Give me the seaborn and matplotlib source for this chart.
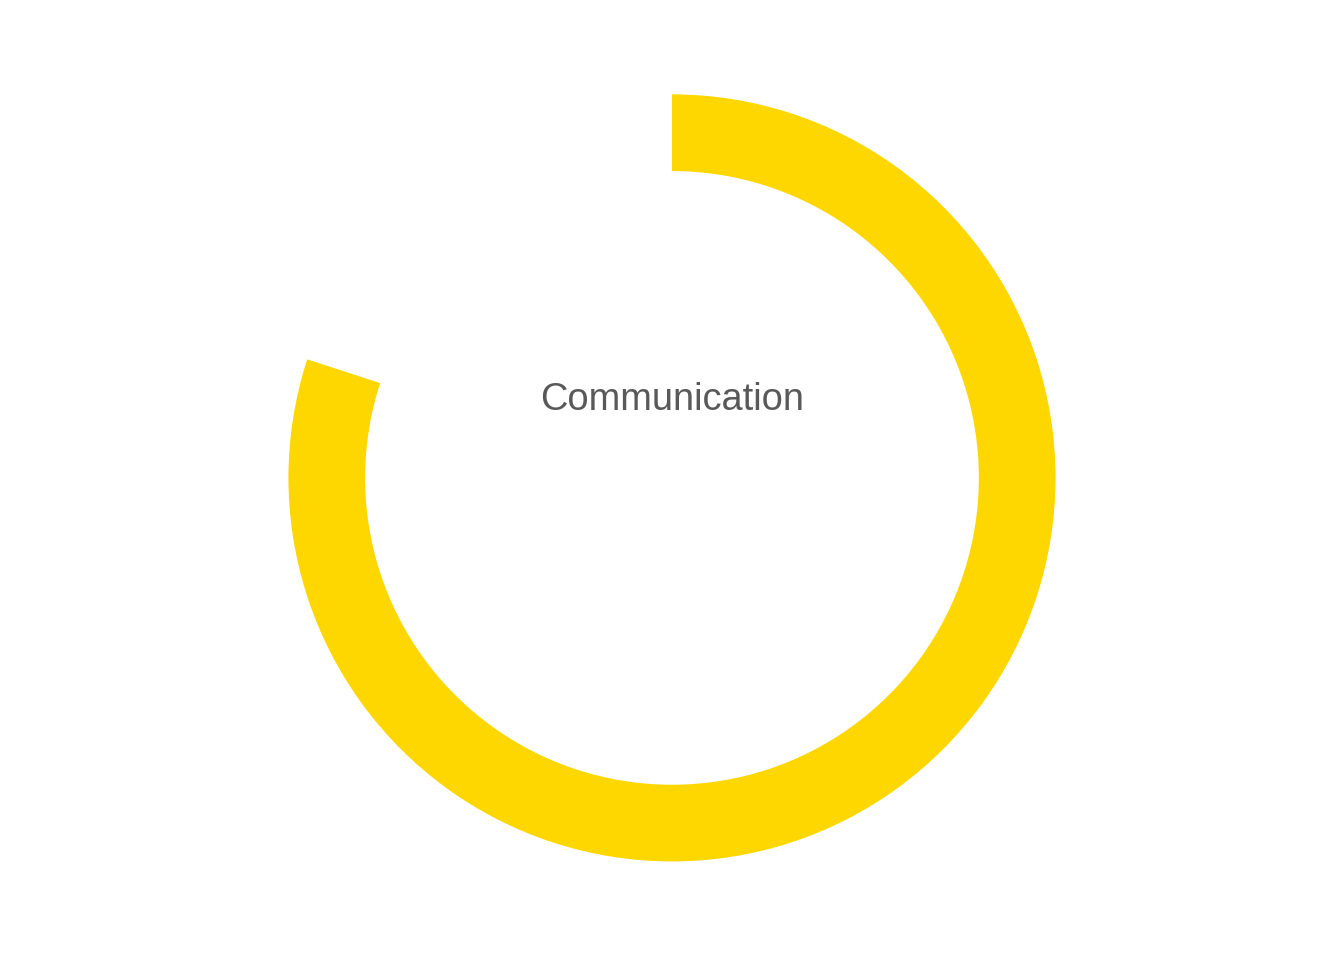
import matplotlib
matplotlib.use('Agg')
import matplotlib.pyplot as plt
import seaborn as sns

# Progress ring data
label = 'Communication'
progress = [80, 20]  # filled, remaining (%)
ring_colors = ['#FFD700', 'none']

sns.set_theme(style='white')
plt.rcParams['font.family'] = ['Liberation Sans', 'DejaVu Sans']

fig = plt.figure(figsize=(13.44, 9.6), dpi=100)
ax = fig.add_axes([0, 0, 1, 1])

ax.pie(progress, colors=ring_colors, startangle=90, counterclock=False,
       radius=1.0, wedgeprops=dict(width=0.2, linewidth=0))

# centre label, placed a bit above the ring centre
ax.text(0, 0.203, label, ha='center', va='center', fontsize=27.4, color='#595959')

ax.set_xlim(-1.752, 1.752)
ax.set_ylim(-1.257, 1.246)
ax.set_aspect('auto')
ax.axis('off')

fig.savefig('out.png', dpi=100, facecolor='white')
